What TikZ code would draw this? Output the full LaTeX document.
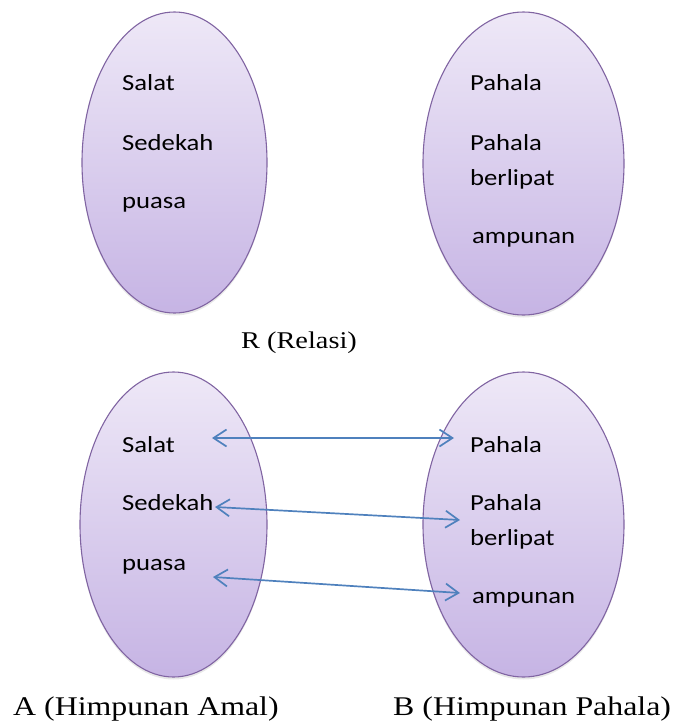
\documentclass[tikz,border=0pt]{standalone}
\usepackage{fontspec}
\usepackage{graphicx}
\setmainfont{Liberation Serif}
\newfontfamily\carl{Carlito}
\usetikzlibrary{shapes.geometric,arrows.meta,shadows}
\definecolor{elltop}{RGB}{238,232,247}
\definecolor{ellbot}{RGB}{198,180,228}
\definecolor{elldraw}{RGB}{128,100,162}
\definecolor{arrowblue}{RGB}{79,129,189}
\newcommand\wx[1]{\scalebox{1.16}[1]{#1}}
\newcommand\wy[1]{\scalebox{1.18}[1]{#1}}
\tikzset{
  setell/.style={ellipse, draw=elldraw, line width=1.1pt, top color=elltop, bottom color=ellbot,
    inner sep=0pt, drop shadow={opacity=0.18, shadow xshift=0pt, shadow yshift=-2.5pt}},
  item/.style={anchor=base west, inner sep=0pt, font=\carl\fontsize{23}{28}\selectfont},
  caption/.style={anchor=base west, inner sep=0pt, font=\fontsize{27}{32}\selectfont},
  rel/.style={draw=arrowblue, line width=1.7pt,
    {Straight Barb[length=13pt,width=17pt]}-{Straight Barb[length=13pt,width=17pt]}}
}
\begin{document}
\begin{tikzpicture}[x=1pt,y=-1pt]
\useasboundingbox (0,0) rectangle (677,724);
% ellipses
\node[setell, minimum width=185pt, minimum height=301pt] (TL) at (174.5,162.5) {};
\node[setell, minimum width=201pt, minimum height=303pt] (TR) at (523.5,163.5) {};
\node[setell, minimum width=187pt, minimum height=305pt] (BL) at (173.5,524.5) {};
\node[setell, minimum width=201pt, minimum height=305pt] (BR) at (523.5,524.5) {};
% top items
\node[item] (tsalat) at (122,90) {\wx{Salat}};
\node[item] (tsedekah) at (122,150) {\wx{Sedekah}};
\node[item] (tpuasa) at (122,208) {\wx{puasa}};
\node[item] (tpahala) at (470,90) {\wx{Pahala}};
\node[item] (tpahala2) at (470,150) {\wx{Pahala}};
\node[item] (tberlipat) at (470,185) {\wx{berlipat}};
\node[item] (tampunan) at (472,243) {\wx{ampunan}};
% relation caption
\node[caption, font=\fontsize{24}{28}\selectfont] (R) at (241,348) {\wy{R (Relasi)}};
% bottom items
\node[item] (bsalat) at (122,452) {\wx{Salat}};
\node[item] (bsedekah) at (122,510) {\wx{Sedekah}};
\node[item] (bpuasa) at (122,570) {\wx{puasa}};
\node[item] (bpahala) at (470,452) {\wx{Pahala}};
\node[item] (bpahala2) at (470,510) {\wx{Pahala}};
\node[item] (bberlipat) at (470,545) {\wx{berlipat}};
\node[item] (bampunan) at (472,603) {\wx{ampunan}};
% arrow ends
\coordinate (a1) at (212,438);
\coordinate (b1) at (454,438);
\coordinate (a2) at (215,507);
\coordinate (b2) at (460,520);
\coordinate (a3) at (213,577);
\coordinate (b3) at (460,593);
\draw[rel] (a1) -- (b1);
\draw[rel] (a2) -- (b2);
\draw[rel] (a3) -- (b3);
% captions
\node[caption] (A) at (13,715) {\wy{A (Himpunan Amal)}};
\node[caption] (B) at (393,715) {\wy{B (Himpunan Pahala)}};
\end{tikzpicture}
\end{document}
